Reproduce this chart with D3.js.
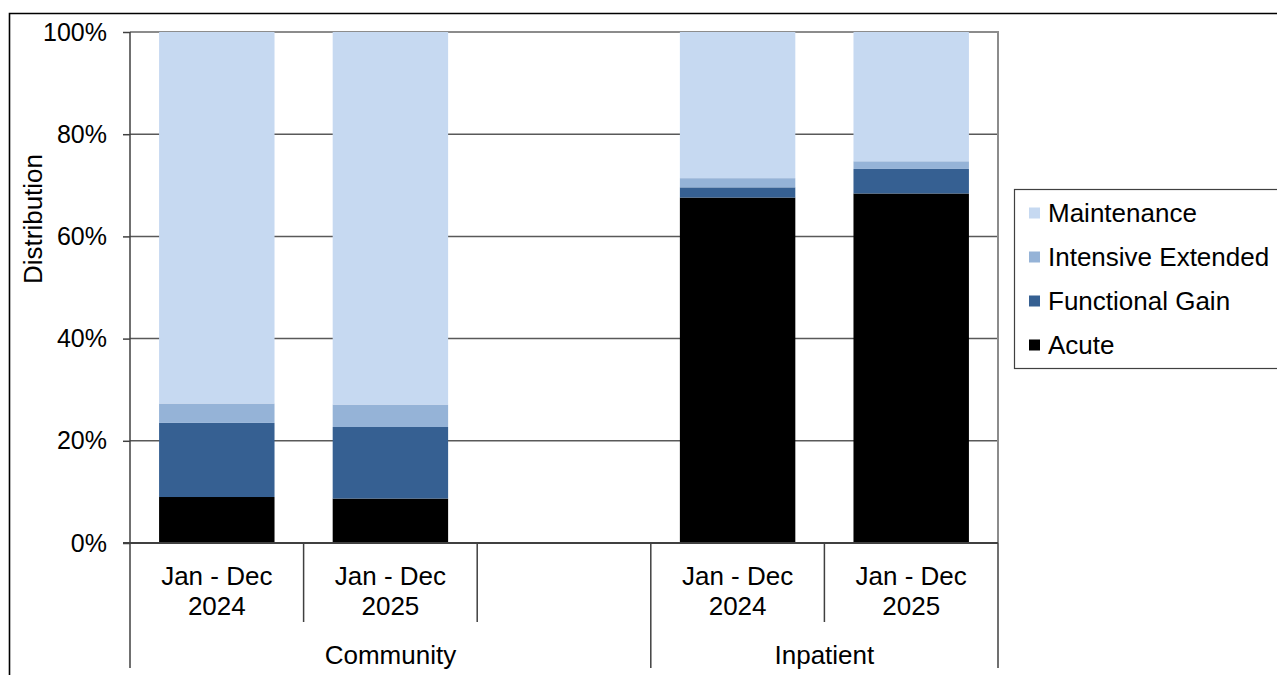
<!DOCTYPE html>
<html>
<head>
<meta charset="utf-8">
<script src="https://cdnjs.cloudflare.com/ajax/libs/d3/7.8.5/d3.min.js"></script>
<style>
  html, body { margin: 0; padding: 0; background: #fff; }
  svg { display: block; font-family: "Liberation Sans", Arial, sans-serif; }
</style>
</head>
<body>
<svg id="chart" width="1277" height="675"></svg>
<script>
// Care-level distribution by setting and period (percent of total)
const groups = ["Community", "Inpatient"];
const periodLines = [["Jan - Dec", "2024"], ["Jan - Dec", "2025"]];
// slot layout: each group's periods, Community carries one empty slot
const slots = [
  { group: "Community", period: 0 },
  { group: "Community", period: 1 },
  { group: "Community", period: null },
  { group: "Inpatient", period: 0 },
  { group: "Inpatient", period: 1 }
];
const seriesNames = ["Acute", "Functional Gain", "Intensive Extended", "Maintenance"];
const seriesColors = ["#000000", "#366092", "#95b3d7", "#c6d9f1"];
// values per bar: Community 2024, Community 2025, Inpatient 2024, Inpatient 2025
const acute             = [9.0, 8.7, 67.6, 68.4];
const functionalGain    = [14.5, 14.0, 2.0, 4.8];
const intensiveExtended = [3.8, 4.4, 1.8, 1.5];
const maintenance       = [72.7, 72.9, 28.6, 25.3];
const yTicks = [0, 20, 40, 60, 80, 100];

const seriesValues = [acute, functionalGain, intensiveExtended, maintenance];

const svg = d3.select("#chart");
const plot = { left: 130, right: 998, top: 32, bottom: 543 };
const fontSize = 26;

// outer frame
svg.append("path")
  .attr("d", "M9.5,675 L9.5,13.5 L1277,13.5")
  .attr("fill", "none").attr("stroke", "#000").attr("stroke-width", 1.6);

const x = d3.scaleBand()
  .domain(d3.range(slots.length))
  .range([plot.left, plot.right])
  .paddingInner(0.335).paddingOuter(0.1675);
const slotW = (plot.right - plot.left) / slots.length;

const y = d3.scaleLinear().domain([0, 100]).range([plot.bottom, plot.top]);

// gridlines
svg.append("g").selectAll("line")
  .data(yTicks.filter(t => t > 0 && t < 100))
  .join("line")
  .attr("x1", plot.left).attr("x2", plot.right)
  .attr("y1", d => y(d)).attr("y2", d => y(d))
  .attr("stroke", "#595959").attr("stroke-width", 1.5);

// plot border (top and right)
svg.append("path")
  .attr("d", `M${plot.left},${y(100)} L${plot.right},${y(100)} L${plot.right},${plot.bottom}`)
  .attr("fill", "none").attr("stroke", "#8c8c8c").attr("stroke-width", 2);

// stacked bars
const barRows = [];
let bi = 0;
slots.forEach((s, i) => {
  if (s.period === null) return;
  let base = 0;
  seriesValues.forEach((vals, k) => {
    const v = vals[bi];
    barRows.push({ slot: i, k, y0: base, y1: base + v });
    base += v;
  });
  bi++;
});
svg.append("g").selectAll("rect")
  .data(barRows)
  .join("rect")
  .attr("x", d => x(d.slot))
  .attr("width", x.bandwidth())
  .attr("y", d => y(d.y1))
  .attr("height", d => y(d.y0) - y(d.y1))
  .attr("fill", d => seriesColors[d.k]);

// y axis
const yAxis = svg.append("g")
  .attr("transform", `translate(${plot.left},0)`)
  .call(d3.axisLeft(y).tickValues(yTicks).tickFormat(d => d + "%").tickSize(7).tickPadding(16));
yAxis.select(".domain").remove();
yAxis.selectAll(".tick line").attr("stroke", "#404040").attr("stroke-width", 1.5);
yAxis.selectAll(".tick text")
  .attr("font-size", 25).attr("fill", "#000")
  .style("font-family", "'Liberation Sans', Arial, sans-serif");

// y axis line, continuing down as the outer category separator
svg.append("line")
  .attr("x1", plot.left).attr("x2", plot.left)
  .attr("y1", plot.top).attr("y2", 668)
  .attr("stroke", "#404040").attr("stroke-width", 1.5);

// x axis baseline
svg.append("line")
  .attr("x1", plot.left - 7).attr("x2", plot.right)
  .attr("y1", plot.bottom).attr("y2", plot.bottom)
  .attr("stroke", "#404040").attr("stroke-width", 2);

// category separators and period labels
slots.forEach((s, i) => {
  const left = x(i) - x.step() * x.paddingInner() / 2;
  const right = left + slotW;
  const last = i === slots.length - 1 || slots[i + 1].group !== s.group;
  svg.append("line")
    .attr("x1", right).attr("x2", right)
    .attr("y1", plot.bottom).attr("y2", last ? 668 : 622)
    .attr("stroke", "#404040").attr("stroke-width", 1.5);
  if (s.period !== null) {
    const cx = x(i) + x.bandwidth() / 2;
    const t = svg.append("text")
      .attr("x", cx).attr("text-anchor", "middle")
      .attr("font-size", fontSize).attr("fill", "#000");
    periodLines[s.period].forEach((ln, j) => {
      t.append("tspan").attr("x", cx).attr("y", 585 + j * 30).text(ln);
    });
  }
});

// group labels
groups.forEach(g => {
  const idx = slots.map((s, i) => s.group === g ? i : -1).filter(i => i >= 0);
  const left = plot.left + idx[0] * slotW;
  const right = plot.left + (idx[idx.length - 1] + 1) * slotW;
  svg.append("text")
    .attr("x", (left + right) / 2).attr("y", 664)
    .attr("text-anchor", "middle").attr("font-size", fontSize).attr("fill", "#000")
    .text(g);
});

// y axis title
svg.append("text")
  .attr("transform", "translate(42,219) rotate(-90)")
  .attr("text-anchor", "middle").attr("font-size", fontSize).attr("fill", "#000")
  .text("Distribution");

// legend
const legend = svg.append("g");
legend.append("rect")
  .attr("x", 1014.5).attr("y", 189.5).attr("width", 300).attr("height", 179)
  .attr("fill", "#fff").attr("stroke", "#404040").attr("stroke-width", 1.2);
const legendOrder = [3, 2, 1, 0];
legendOrder.forEach((k, j) => {
  const cy = 213 + j * 44;
  legend.append("rect")
    .attr("x", 1029).attr("y", cy - 5.5).attr("width", 11).attr("height", 11)
    .attr("fill", seriesColors[k]);
  legend.append("text")
    .attr("x", 1048).attr("y", cy + 9)
    .attr("font-size", fontSize).attr("fill", "#000")
    .text(seriesNames[k]);
});
</script>
</body>
</html>
